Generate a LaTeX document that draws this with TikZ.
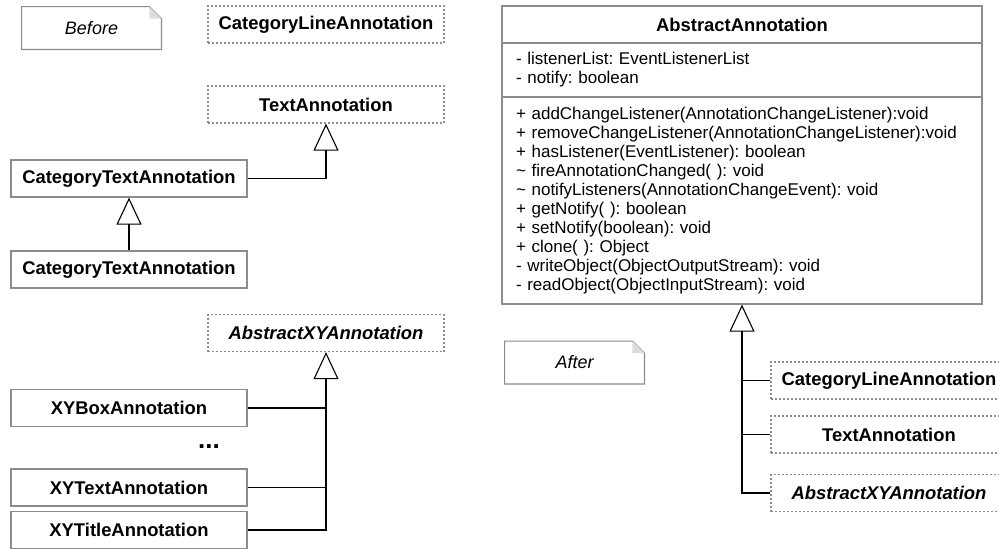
\documentclass[tikz,border=0pt]{standalone}
\usepackage{fontspec}
\setmainfont{Liberation Sans}
\usetikzlibrary{arrows.meta}
\frenchspacing

\definecolor{boxgray}{HTML}{8C8C8C}
\definecolor{foldgray}{HTML}{DCDCDC}

\begin{document}
\begin{tikzpicture}[x=0.5pt,y=-0.5pt,
  cls/.style={draw=boxgray,line width=0.6pt,minimum width=118pt,minimum height=18.5pt,
    inner sep=0pt,font=\fontsize{9.2}{11}\selectfont\bfseries},
  ghost/.style={cls,dash pattern=on 1pt off 1pt},
  member/.style={draw=boxgray,line width=0.6pt,minimum width=240pt,text width=226pt,
    inner xsep=7pt,inner ysep=0pt,align=left,font=\fontsize{8.5}{9.5}\selectfont},
  notetext/.style={minimum width=69.5pt,minimum height=21pt,inner sep=0pt,
    font=\fontsize{9}{11}\selectfont\itshape},
  inherit/.style={line width=0.55pt,-{Triangle[open,width=12.5pt,length=13.5pt]}},
  link/.style={line width=0.55pt}]

\useasboundingbox (0,0) rectangle (999,548);
\clip (0,0) rectangle (999,548);

%% before
\node[notetext] (before) at (91.5,28) {Before};
\draw[boxgray,line width=0.6pt] (before.south west) -- (before.north west) -- ([xshift=-6pt]before.north east)
  -- ([yshift=-6pt]before.north east) -- (before.south east) -- cycle;
\fill[foldgray] ([xshift=-6pt]before.north east) -- ([yshift=-6pt]before.north east) -- ([xshift=-6pt,yshift=-6pt]before.north east) -- cycle;

\node[ghost] (catline) at (326,24.5) {CategoryLineAnnotation};
\node[ghost] (textann) at (326,104.5) {TextAnnotation};
\node[cls] (ctaup) at (129,178.5) {CategoryTextAnnotation};
\node[cls] (ctalow) at (129,269.5) {CategoryTextAnnotation};

\draw[inherit] (ctaup.east) -| (textann.south);
\draw[inherit] (ctalow.north) -- (ctaup.south);

\node[ghost] (axy) at (326,333) {\itshape AbstractXYAnnotation};
\node[cls] (xybox) at (129,408) {XYBoxAnnotation};
\node[font=\fontsize{13}{15}\selectfont\bfseries] (dots) at (209,447) {...};
\node[cls] (xytext) at (129,487.5) {XYTextAnnotation};
\node[cls] (xytitle) at (129,530) {XYTitleAnnotation};

\coordinate (axyfoot) at (326,379);
\draw[link] (xybox.east) -| (axyfoot);
\draw[link] (xytext.east) -| (axyfoot);
\draw[inherit] (xytitle.east) -| (axy.south);

%% after
\node[cls,minimum width=240pt] (aatitle) at (742,24.5) {AbstractAnnotation};
\node[member,minimum height=27pt] (aafields) at (742,70)
  {- listenerList: EventListenerList\\
   - notify: boolean};
\node[member,minimum height=103.5pt] (aaops) at (742,200.5)
  {+ addChangeListener(AnnotationChangeListener):void\\
   + removeChangeListener(AnnotationChangeListener):void\\
   + hasListener(EventListener): boolean\\
   \textasciitilde{} fireAnnotationChanged( ): void\\
   \textasciitilde{} notifyListeners(AnnotationChangeEvent): void\\
   + getNotify( ): boolean\\
   + setNotify(boolean): void\\
   + clone( ): Object\\
   - writeObject(ObjectOutputStream): void\\
   - readObject(ObjectInputStream): void};

\node[notetext] (after) at (574.5,362.5) {After};
\draw[boxgray,line width=0.6pt] (after.south west) -- (after.north west) -- ([xshift=-6pt]after.north east)
  -- ([yshift=-6pt]after.north east) -- (after.south east) -- cycle;
\fill[foldgray] ([xshift=-6pt]after.north east) -- ([yshift=-6pt]after.north east) -- ([xshift=-6pt,yshift=-6pt]after.north east) -- cycle;

\node[ghost] (catline2) at (889,380.5) {CategoryLineAnnotation};
\node[ghost] (textann2) at (889,434.5) {TextAnnotation};
\node[ghost] (axy2) at (889,493) {\itshape AbstractXYAnnotation};

\coordinate (aafoot) at (742,331);
\draw[link] (catline2.west) -| (aafoot);
\draw[link] (textann2.west) -| (aafoot);
\draw[inherit] (axy2.west) -| (aaops.south);

\end{tikzpicture}
\end{document}
